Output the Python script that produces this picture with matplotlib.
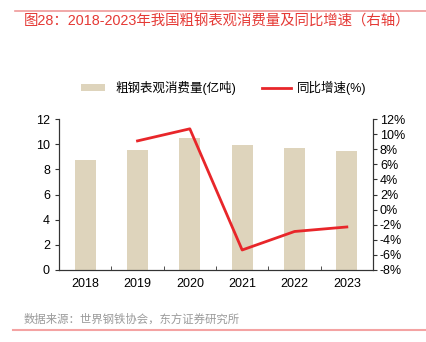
import matplotlib.pyplot as plt
import numpy as np

plt.rcParams['font.family'] = ['Liberation Sans', 'Noto Sans CJK SC', 'DejaVu Sans']

years = ['2018', '2019', '2020', '2021', '2022', '2023']
consumption = [8.72, 9.54, 10.52, 9.96, 9.67, 9.46]   # 亿吨
growth = [np.nan, 9.1, 10.7, -5.35, -2.9, -2.3]        # %

bar_color = '#ded4bc'
line_color = '#e8262a'

W, H = 426, 342
fig = plt.figure(figsize=(W / 100, H / 100), dpi=100)

# frame lines and title
fig.add_artist(plt.Line2D([15/W, 1], [1 - 11/H, 1 - 11/H], color='#ef9a9a', lw=1.2))
fig.add_artist(plt.Line2D([13/W, 1], [1 - 330/H, 1 - 330/H], color='#f4a3a3', lw=1.5))
fig.text(24/W, 1 - 22/H, '图28：2018-2023年我国粗钢表观消费量及同比增速（右轴）',
         color='#e53935', fontsize=10.4, va='center', ha='left')
fig.text(24/W, 1 - 319/H, '数据来源：世界钢铁协会，东方证券研究所',
         color='#9a9a9a', fontsize=8.2, va='center', ha='left')

ax = fig.add_axes([59/W, 1 - 270/H, 314/W, 151/H])
x = np.arange(len(years))
bars = ax.bar(x, consumption, width=0.4, color=bar_color)
ax.set_xlim(-0.5, len(years) - 0.5)
ax.set_ylim(0, 12)
ax.set_yticks(np.arange(0, 13, 2))
ax.set_xticks(x)
ax.set_xticklabels(years)
ax.set_xticks(np.arange(0.5, len(years) - 1, 1), minor=True)
ax.tick_params(axis='x', which='major', length=0, labelsize=9, pad=6)
ax.tick_params(axis='x', which='minor', length=3, direction='in', color='#333333')
ax.tick_params(axis='y', labelsize=9, length=3, color='#333333')
ax.spines['top'].set_visible(False)
for s in ['left', 'bottom', 'right']:
    ax.spines[s].set_color('#333333')
    ax.spines[s].set_linewidth(0.8)

ax2 = ax.twinx()
line, = ax2.plot(x, growth, color=line_color, lw=2)
ax2.set_ylim(-8, 12)
ax2.set_yticks(np.arange(-8, 13, 2))
ax2.set_yticklabels([f'{v}%' for v in range(-8, 13, 2)])
ax2.tick_params(axis='y', labelsize=9, length=3, color='#333333', pad=2)
ax2.spines['top'].set_visible(False)
for s in ['left', 'bottom', 'right']:
    ax2.spines[s].set_color('#333333')
    ax2.spines[s].set_linewidth(0.8)

# two legend entries placed separately
leg_y = 1 - 88/H
leg1 = fig.legend([bars], ['粗钢表观消费量(亿吨)'], loc='center left',
                  bbox_to_anchor=(81/W, leg_y), frameon=False, fontsize=9,
                  borderpad=0, borderaxespad=0, handlelength=1.92,
                  handleheight=0.45, handletextpad=0.8)
leg2 = fig.legend([line], ['同比增速(%)'], loc='center left',
                  bbox_to_anchor=(262/W, leg_y), frameon=False, fontsize=9,
                  borderpad=0, borderaxespad=0, handlelength=2.32,
                  handletextpad=0.48)

fig.savefig('out.png', dpi=100)
